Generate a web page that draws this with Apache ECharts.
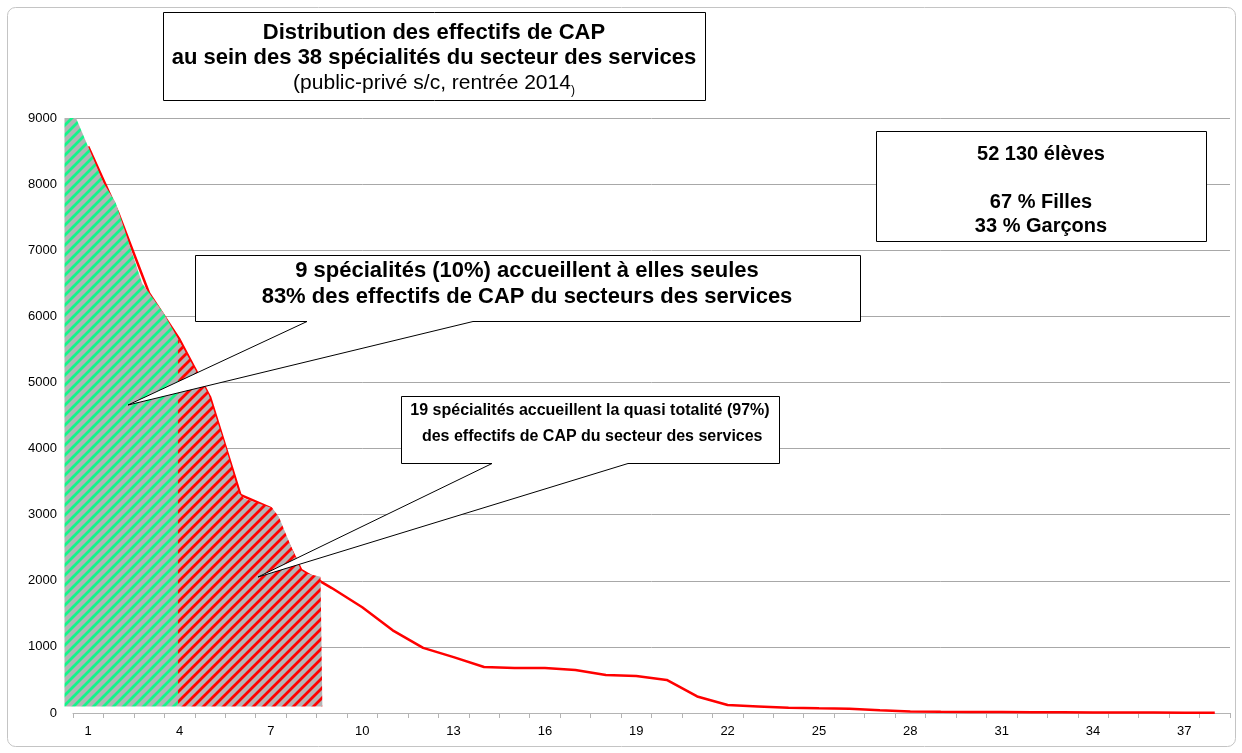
<!DOCTYPE html>
<html>
<head>
<meta charset="utf-8">
<script src="https://cdn.jsdelivr.net/npm/echarts@6/dist/echarts.min.js"></script>
<style>
  html, body { margin: 0; padding: 0; background: #fff; }
  #chart { width: 1242px; height: 753px; }
</style>
</head>
<body>
<div id="chart"></div>
<script>
// rang des 38 spécialités
const categories = ['1', '2', '3', '4', '5', '6', '7', '8', '9', '10',
  '11', '12', '13', '14', '15', '16', '17', '18', '19', '20',
  '21', '22', '23', '24', '25', '26', '27', '28', '29', '30',
  '31', '32', '33', '34', '35', '36', '37', '38']
// effectifs par spécialité
const effectifs = [8570, 7550, 6350, 5650, 4780, 3300, 3100, 2160, 1890, 1600,
  1250, 985, 845, 695, 680, 680, 650, 575, 560, 500,
  250, 120, 100, 80, 70, 65, 40, 22, 18, 16,
  14, 12, 10, 8, 7, 6, 5, 3]
// zones hachurées (abscisse en rangs, 0 = début de l'axe)
const zoneVerteX = [-0.28, 0.1, 1.0, 1.4, 2.27, 2.98, 3.45]
const zoneVerteY = [9000, 9000, 8020, 7720, 6500, 6047, 5660]
const zoneRougeX = [3.45, 4.02, 4.46, 5.01, 5.45, 5.61, 6.55, 6.76, 7.48, 7.64, 8.13, 8.19]
const zoneRougeY = [5660, 5189, 4811, 4029, 3324, 3248, 3097, 2970, 2163, 2113, 2062, 2062]
const baseZone = 100

const FONT = '"Liberation Sans", Arial, sans-serif'
// largeur d'un rang en pixels (1157 px / 38)
const PAS = 1157 / 38

function hachure(color) {
  const c = document.createElement('canvas')
  c.width = c.height = 10
  const g = c.getContext('2d')
  g.fillStyle = '#b4b4b4'
  g.fillRect(0, 0, 10, 10)
  g.strokeStyle = color
  g.lineWidth = 2.8
  g.beginPath()
  g.moveTo(-3, 13); g.lineTo(13, -3)
  g.moveTo(-3, 3); g.lineTo(3, -3)
  g.moveTo(7, 13); g.lineTo(13, 7)
  g.stroke()
  return c
}

function zip(xs, ys) {
  return xs.map((x, i) => [x, ys[i]])
}

// bulle avec pointe : rectangle + triangle
function bulle(L, T, R, B, b1, b2, tip) {
  return {
    type: 'polygon',
    z: 100,
    shape: { points: [[L, T], [R, T], [R, B], [b2, B], tip, [b1, B], [L, B]] },
    style: { fill: '#fff', stroke: '#000', lineWidth: 1 }
  }
}

function texte(x, y, txt, size, lh) {
  return {
    type: 'text',
    z: 101,
    style: {
      text: txt, x: x, y: y,
      align: 'center', verticalAlign: 'middle',
      font: 'bold ' + size + 'px ' + FONT,
      lineHeight: lh, fill: '#000'
    }
  }
}

const chart = echarts.init(document.getElementById('chart'))
chart.setOption({
  animation: false,
  textStyle: { fontFamily: FONT },
  grid: [
    { left: 73, right: 12, top: 118, bottom: 40, containLabel: false },
    // même échelle, élargie à gauche pour les zones hachurées
    { left: 73 - 0.3 * PAS, right: 12, top: 118, bottom: 40, containLabel: false }
  ],
  xAxis: [{
    type: 'category',
    gridIndex: 0,
    data: categories,
    boundaryGap: true,
    axisLine: { lineStyle: { color: '#b4b4b4', width: 1 } },
    axisTick: { show: true, interval: 0, length: 5, lineStyle: { color: '#b4b4b4' } },
    axisLabel: { interval: 2, color: '#000', fontSize: 13, margin: 12 },
    splitLine: { show: false }
  }, {
    type: 'value',
    gridIndex: 1,
    min: -0.3,
    max: 38,
    show: false
  }],
  yAxis: [{
    type: 'value',
    gridIndex: 0,
    min: 0,
    max: 9000,
    interval: 1000,
    axisLine: { show: false },
    axisTick: { show: false },
    axisLabel: { color: '#000', fontSize: 13, margin: 16, formatter: v => String(v) },
    splitLine: { lineStyle: { color: '#a8a8a8', width: 1 } }
  }, {
    type: 'value',
    gridIndex: 1,
    min: 0,
    max: 9000,
    show: false
  }],
  series: [{
    name: 'Effectifs',
    type: 'line',
    data: effectifs,
    symbol: 'none',
    z: 2,
    lineStyle: { color: '#ff0000', width: 2.5 }
  }, {
    name: 'zone verte',
    type: 'line',
    xAxisIndex: 1,
    yAxisIndex: 1,
    data: zip(zoneVerteX, zoneVerteY),
    symbol: 'none',
    z: 3,
    lineStyle: { width: 0 },
    areaStyle: { color: { image: hachure('#14f58a'), repeat: 'repeat' }, opacity: 1, origin: baseZone }
  }, {
    name: 'zone rouge',
    type: 'line',
    xAxisIndex: 1,
    yAxisIndex: 1,
    data: zip(zoneRougeX, zoneRougeY),
    symbol: 'none',
    z: 3,
    lineStyle: { width: 0 },
    areaStyle: { color: { image: hachure('#ff0000'), repeat: 'repeat' }, opacity: 1, origin: baseZone }
  }],
  graphic: [
    {
      type: 'rect', z: 0, silent: true,
      shape: { x: 7.5, y: 7.5, width: 1228, height: 739, r: 8 },
      style: { fill: 'none', stroke: '#c4c4c4', lineWidth: 1 }
    },
    {
      type: 'rect', z: 100,
      shape: { x: 163.5, y: 12.5, width: 542, height: 88 },
      style: { fill: '#fff', stroke: '#000', lineWidth: 1 }
    },
    {
      type: 'text', z: 101,
      style: {
        x: 434, y: 58, align: 'center', verticalAlign: 'middle',
        text: '{t|Distribution des effectifs de CAP}\n{t|au sein des 38 spécialités du secteur des services}\n{n|(public-privé s/c, rentrée 2014}{s|)}',
        rich: {
          t: { font: 'bold 22px ' + FONT, lineHeight: 25.5, fill: '#000' },
          n: { font: '21px ' + FONT, lineHeight: 25.5, fill: '#000' },
          s: { font: '12px ' + FONT, lineHeight: 25.5, fill: '#000', verticalAlign: 'bottom' }
        }
      }
    },
    bulle(195.5, 255.5, 860.5, 321.5, 307, 473, [128, 405]),
    texte(527, 284, '9 spécialités (10%) accueillent à elles seules\n83% des effectifs de CAP du secteurs des services', 22, 26),
    bulle(401.5, 396.5, 779.5, 463.5, 492, 628, [258, 577]),
    texte(590, 424, '19 spécialités accueillent la quasi totalité (97%)\n des effectifs de CAP du secteur des services', 16, 26),
    {
      type: 'rect', z: 100,
      shape: { x: 876.5, y: 131.5, width: 330, height: 110 },
      style: { fill: '#fff', stroke: '#000', lineWidth: 1 }
    },
    texte(1041, 190, '52 130 élèves\n\n67 % Filles\n33 % Garçons', 20, 24)
  ]
})
</script>
</body>
</html>
